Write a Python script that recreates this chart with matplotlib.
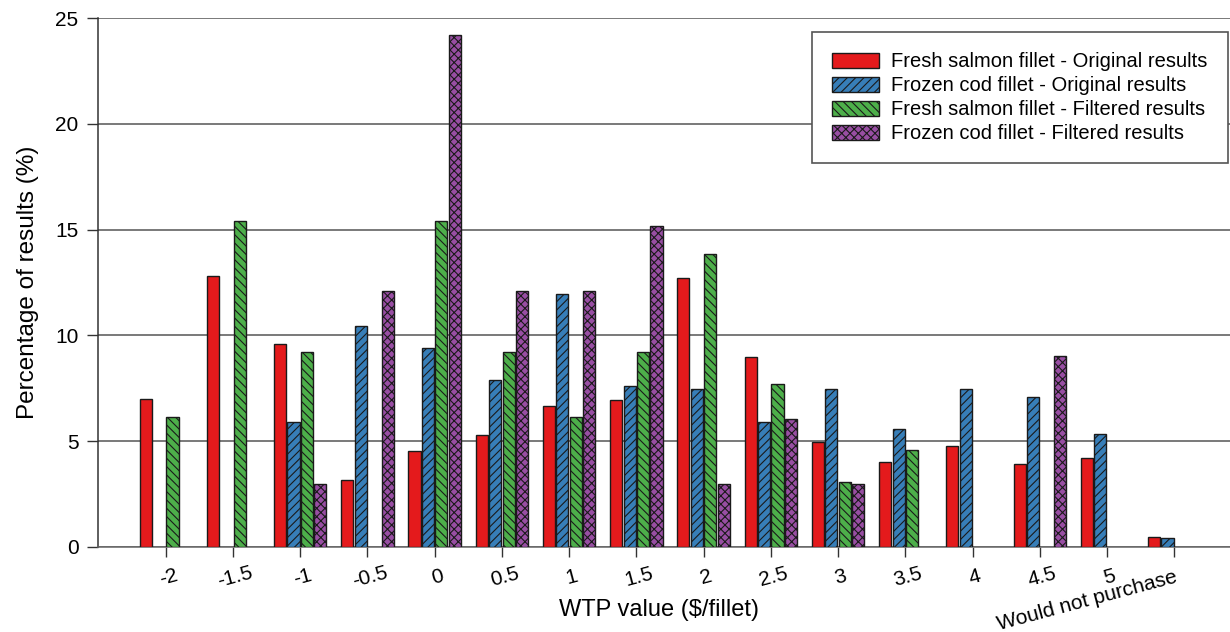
import numpy as np
import matplotlib
matplotlib.use("Agg")
import matplotlib.pyplot as plt

plt.rcParams['font.family'] = ['Liberation Sans', 'DejaVu Sans']
plt.rcParams['hatch.linewidth'] = 0.8

# WTP categories on the x axis
categories = ["-2", "-1.5", "-1", "-0.5", "0", "0.5", "1", "1.5", "2", "2.5",
              "3", "3.5", "4", "4.5", "5", "Would not purchase"]

nan = np.nan
salmon_orig = [7.0, 12.8, 9.6, 3.15, 4.55, 5.3, 6.65, 6.95, 12.7, 9.0,
               4.95, 4.0, 4.75, 3.9, 4.2, 0.47]
cod_orig = [nan, nan, 5.9, 10.45, 9.4, 7.9, 11.95, 7.6, 7.45, 5.9,
            7.45, 5.6, 7.45, 7.1, 5.35, 0.42]
salmon_filt = [6.15, 15.4, 9.2, nan, 15.4, 9.2, 6.15, 9.2, 13.85, 7.7,
               3.05, 4.6, nan, nan, nan, nan]
cod_filt = [nan, nan, 3.0, 12.1, 24.2, 12.1, 12.1, 15.15, 3.0, 6.05,
            3.0, nan, nan, 9.05, nan, nan]

series = [
    (salmon_orig, "Fresh salmon fillet - Original results", "#E41A1C", None),
    (cod_orig, "Frozen cod fillet - Original results", "#377EB8", "////"),
    (salmon_filt, "Fresh salmon fillet - Filtered results", "#4DAF4A", "\\\\\\\\"),
    (cod_filt, "Frozen cod fillet - Filtered results", "#984EA3", "xxxx"),
]

fig = plt.figure(figsize=(12.3, 6.32), dpi=100)
ax = fig.add_axes([0.0797, 0.1345, 0.9203, 0.837])

x = np.arange(len(categories))
slot = 0.2
width = 0.18
for i, (vals, label, color, hatch) in enumerate(series):
    ax.bar(x + (i - 1.5) * slot, vals, width, color=color, edgecolor="#1a1a1a",
           linewidth=1.0, hatch=hatch, label=label, zorder=3)

ax.set_xlim(-1.007, 15.83)
ax.set_ylim(0, 25)
ax.set_yticks([0, 5, 10, 15, 20, 25])
ax.yaxis.grid(True, color="#555555", linewidth=1.1, zorder=0)
ax.set_axisbelow(True)

ax.set_xticks(x)
ax.set_xticklabels(categories, fontsize=15, rotation=15, rotation_mode="anchor")
for lbl in ax.get_xticklabels():
    if lbl.get_text() == "Would not purchase":
        lbl.set_ha("right")
    else:
        lbl.set_ha("center")
    lbl.set_va("top")

ax.tick_params(axis="x", direction="out", length=7, width=1, color="#333333", pad=8)
ax.tick_params(axis="y", direction="out", length=8, width=1, color="#333333",
               labelsize=15, pad=6)

for side in ["top", "right"]:
    ax.spines[side].set_visible(False)
ax.spines["left"].set_color("#333333")
ax.spines["bottom"].set_color("#666666")
ax.spines["left"].set_linewidth(1.1)
ax.spines["bottom"].set_linewidth(1.1)

ax.set_xlabel("WTP value ($/fillet)", fontsize=17, va="center")
ax.xaxis.set_label_coords(0.4956, -0.119)
ax.set_ylabel("Percentage of results (%)", fontsize=17.5, labelpad=12)

leg = ax.legend(loc="upper right", bbox_to_anchor=(0.998, 0.9735), fontsize=14.5,
                fancybox=False, framealpha=1, edgecolor="#555555",
                borderaxespad=0, labelspacing=0.25, handlelength=2.35,
                handleheight=0.75, handletextpad=0.6, borderpad=1.0)
leg.get_frame().set_linewidth(1.2)

fig.savefig("out.png", dpi=100)
